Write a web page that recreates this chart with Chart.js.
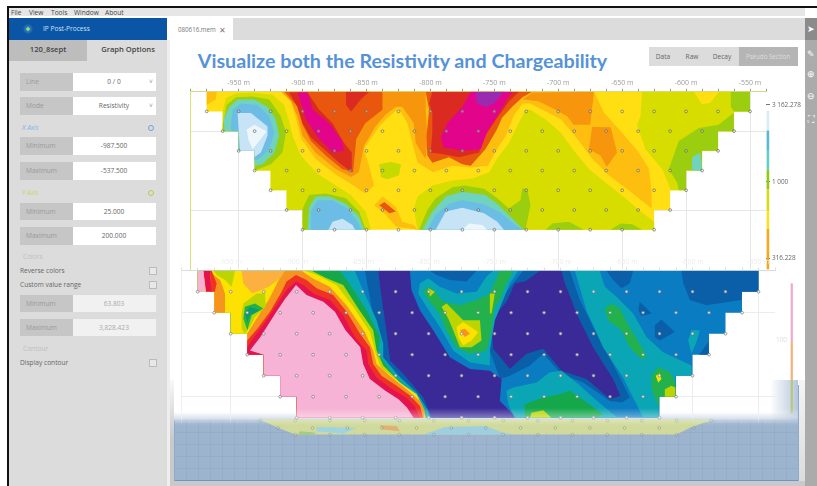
<!DOCTYPE html>
<html><head><meta charset="utf-8">
<script src="https://cdn.jsdelivr.net/npm/chart.js@4/dist/chart.umd.min.js"></script>
<style>
html,body{margin:0;padding:0;background:#fff;overflow:hidden}
#wrap{position:relative;width:817px;height:486px;overflow:hidden;background:#fff;filter:blur(.5px);font-family:"Open Sans",sans-serif;color:#666}
#wrap div,#wrap canvas{position:absolute}
.t{white-space:nowrap;font-size:6.6px;line-height:1;transform:translate(-50%,-50%)}
.l{white-space:nowrap;font-size:6.6px;line-height:1;transform:translateY(-50%)}
.lab{background:#c6c6c6;left:20px;width:53px}
.val{background:#fff;left:73px;width:83px}
.chk{left:149px;width:6px;height:6px;background:#e8e8e8;border:1px solid #bbb}
</style></head><body><div id="wrap">
<div style="left:0;top:0;width:817px;height:6px;background:#fff"></div>
<div style="left:9px;top:7px;width:796px;height:9px;background:#e6e6e6"></div>
<div style="left:7px;top:6px;width:810px;height:1.5px;background:#111"></div>
<div style="left:7px;top:6px;width:2px;height:480px;background:#111"></div>
<div class="l" style="left:11px;top:13px;color:#444">File</div>
<div class="l" style="left:29px;top:13px;color:#444">View</div>
<div class="l" style="left:51px;top:13px;color:#444">Tools</div>
<div class="l" style="left:74px;top:13px;color:#444">Window</div>
<div class="l" style="left:105px;top:13px;color:#444">About</div>
<div style="left:9px;top:18px;width:158px;height:22px;background:#0a55a5"></div>
<div style="left:23px;top:24px;width:10px;height:10px;border-radius:50%;background:radial-gradient(circle,#9fe060 0 18%,#2b7fc4 30%,#0d3f7d 100%)"></div>
<div class="l" style="left:43px;top:29px;color:#cfe0f3">IP Post-Process</div>
<div style="left:9px;top:40px;width:158px;height:446px;background:#dcdcdc"></div>
<div style="left:167px;top:40px;width:3px;height:446px;background:#eeeeee"></div>
<div style="left:9px;top:40px;width:78px;height:21px;background:#bdbdbd"></div>
<div class="t" style="left:48px;top:50px;font-size:7.6px;font-weight:600;color:#444">120_8sept</div>
<div class="t" style="left:128px;top:50px;font-size:7.6px;font-weight:600;color:#444">Graph Options</div>

<div class="lab" style="top:73px;height:18px"></div><div class="val" style="top:73px;height:18px"></div>
<div class="l" style="left:26px;top:82px;color:#999">Line</div><div class="t" style="left:114px;top:82px">0 / 0</div><div class="t" style="left:151px;top:82px;color:#999">˅</div>
<div class="lab" style="top:97px;height:18px"></div><div class="val" style="top:97px;height:18px"></div>
<div class="l" style="left:26px;top:106px;color:#999">Mode</div><div class="t" style="left:114px;top:106px">Resistivity</div><div class="t" style="left:151px;top:106px;color:#999">˅</div>
<div class="l" style="left:22px;top:128px;color:#7fb5e6;font-style:italic">X Axis</div>
<div style="left:148px;top:125px;width:4px;height:4px;border:1px solid #6aa5e0;border-radius:50%"></div>
<div class="lab" style="top:137px;height:18px"></div><div class="val" style="top:137px;height:18px"></div>
<div class="l" style="left:26px;top:146px;color:#999">Minimum</div><div class="t" style="left:114px;top:146px">-987.500</div>
<div class="lab" style="top:162px;height:18px"></div><div class="val" style="top:162px;height:18px"></div>
<div class="l" style="left:26px;top:171px;color:#999">Maximum</div><div class="t" style="left:114px;top:171px">-537.500</div>
<div class="l" style="left:22px;top:193px;color:#c3d96a;font-style:italic">Y Axis</div>
<div style="left:148px;top:190px;width:4px;height:4px;border:1px solid #b5cf4e;border-radius:50%"></div>
<div class="lab" style="top:203px;height:17px"></div><div class="val" style="top:203px;height:17px"></div>
<div class="l" style="left:26px;top:212px;color:#999">Minimum</div><div class="t" style="left:114px;top:212px">25.000</div>
<div class="lab" style="top:227px;height:18px"></div><div class="val" style="top:227px;height:18px"></div>
<div class="l" style="left:26px;top:236px;color:#999">Maximum</div><div class="t" style="left:114px;top:236px">200.000</div>
<div class="l" style="left:23px;top:257px;color:#bcbcbc">Colors</div>
<div class="l" style="left:20px;top:271px;color:#666">Reverse colors</div><div class="chk" style="top:267px"></div>
<div class="l" style="left:20px;top:285px;color:#666">Custom value range</div><div class="chk" style="top:281px"></div>
<div class="lab" style="top:295px;height:17px"></div><div class="val" style="top:295px;height:17px;background:#f1f1f1"></div>
<div class="l" style="left:26px;top:304px;color:#999">Minimum</div><div class="t" style="left:114px;top:304px;color:#aaa">63.803</div>
<div class="lab" style="top:319px;height:17px"></div><div class="val" style="top:319px;height:17px;background:#f1f1f1"></div>
<div class="l" style="left:26px;top:328px;color:#999">Maximum</div><div class="t" style="left:114px;top:328px;color:#aaa">3,828.423</div>
<div class="l" style="left:23px;top:349px;color:#bcbcbc">Contour</div>
<div class="l" style="left:20px;top:363px;color:#666">Display contour</div><div class="chk" style="top:359px"></div>

<div style="left:233px;top:18px;width:572px;height:22px;background:#dcdcdc"></div>
<div class="l" style="left:178px;top:30px;font-size:6.2px;color:#777">080616.mem</div>
<div class="t" style="left:222px;top:30px;font-size:8px;color:#777">✕</div>
<div style="left:649px;top:47px;width:149px;height:19px;background:#dcdcdc"></div>
<div style="left:739px;top:47px;width:59px;height:19px;background:#b5b5b5"></div>
<div class="t" style="left:663px;top:57px">Data</div>
<div class="t" style="left:692px;top:57px">Raw</div>
<div class="t" style="left:722px;top:57px">Decay</div>
<div class="t" style="left:768px;top:57px;font-size:6.2px;color:#dedede">Pseudo Section</div>
<div style="left:805px;top:18px;width:12px;height:468px;background:#ababab"></div>
<div style="left:805px;top:18px;width:12px;height:22px;background:#8b8b8b"></div>
<div class="t" style="left:811px;top:28px;color:#fff;font-size:9px">➤</div>
<div class="t" style="left:811px;top:53px;color:#fff;font-size:9px">✎</div>
<div class="t" style="left:811px;top:73px;color:#fff;font-size:9px">⊕</div>
<div class="t" style="left:811px;top:95px;color:#fff;font-size:9px">⊖</div>
<div class="t" style="left:811px;top:118px;color:#fff;font-size:9px">⛶</div>
<div class="t" style="left:402.5px;top:60.5px;font-family:Lato,sans-serif;font-weight:700;font-size:19.7px;color:#5592d8">Visualize both the Resistivity and Chargeability</div>

<div style="left:174px;top:380px;width:624px;height:101px;background:linear-gradient(to bottom,rgba(157,180,207,0) 0,rgba(157,180,207,0) 32%,rgba(157,180,207,1) 43%,rgba(157,180,207,1) 100%)"></div>
<div style="left:174px;top:420px;width:624px;height:61px;background-image:repeating-linear-gradient(to right,rgba(110,140,180,.16) 0 1px,transparent 1px 12px),repeating-linear-gradient(to bottom,rgba(110,140,180,.16) 0 1px,transparent 1px 12px)"></div>
<div style="left:174px;top:480px;width:624px;height:1px;background:#6f93c9"></div>
<div style="left:174px;top:420px;width:1px;height:61px;background:#8fa9cc"></div>
<div style="left:798px;top:385px;width:1px;height:96px;background:#8fa9cc"></div>
<div style="left:770px;top:380px;width:28px;height:43px;background:linear-gradient(to right,rgba(157,180,207,0),rgba(157,180,207,.75))"></div>
<div style="left:170px;top:380px;width:4px;height:106px;background:linear-gradient(to bottom,#f8f8f8,#c9c9c9 55%)"></div>
<div style="left:170px;top:481px;width:635px;height:5px;background:#c9c9c9"></div>
<div style="left:799px;top:380px;width:6px;height:101px;background:linear-gradient(to bottom,#f4f4f4,#dcdcdc)"></div>

<canvas id="top" width="640" height="215" style="left:170px;top:60px"></canvas>
<canvas id="bot" width="640" height="236" style="left:170px;top:250px"></canvas>
<div style="left:174px;top:408px;width:624px;height:18px;background:linear-gradient(to bottom,rgba(255,255,255,0),rgba(255,255,255,.35) 50%,rgba(255,255,255,0))"></div>
</div>
<script>
// ---- axes ----
const xTickValues=[-987.5,-975,-962.5,-950,-937.5,-925,-912.5,-900,-887.5,-875,-862.5,-850,-837.5,-825,-812.5,-800,-787.5,-775,-762.5,-750,-737.5,-725,-712.5,-700,-687.5,-675,-662.5,-650,-637.5,-625,-612.5,-600,-587.5,-575,-562.5,-550,-537.5];
const xLabelled=[-950,-900,-850,-800,-750,-700,-650,-600,-550];
const depthGrid=[50,150];
const colorTicksTop=[3162.278,1000,316.228];
const colorTickLabelsTop=['3 162.278','1 000','316.228'];
const colorTicksBottom=[100];
const colorTickLabelsBottom=['100'];

// ---- measurement points (x in metres per depth row) ----
const depth25=[-975,-950,-925,-900,-875,-850,-825,-800,-775,-750,-725,-700,-675,-650,-625,-600,-575,-550];
const depth50=[-962.5,-937.5,-912.5,-887.5,-862.5,-837.5,-812.5,-787.5,-762.5,-737.5,-712.5,-687.5,-662.5,-637.5,-612.5,-587.5,-562.5];
const depth75=[-950,-925,-900,-875,-850,-825,-800,-775,-750,-725,-700,-675,-650,-625,-600,-575];
const depth100=[-937.5,-912.5,-887.5,-862.5,-837.5,-812.5,-787.5,-762.5,-737.5,-712.5,-687.5,-662.5,-637.5,-612.5,-587.5];
const depth125=[-925,-900,-875,-850,-825,-800,-775,-750,-725,-700,-675,-650,-625,-600];
const depth150=[-912.5,-887.5,-862.5,-837.5,-812.5,-787.5,-762.5,-737.5,-712.5,-687.5,-662.5,-637.5,-612.5];
const depth175=[-900,-875,-850,-825,-800,-775,-750,-725,-700,-675,-650,-625];
const fadedRow178=[-927.3,-901,-874.7,-848.5,-822.2,-796,-769.7,-743.4,-717.2,-690.9,-664.6,-638.4,-612.1,-585.9];
const fadedRow187=[-914.1,-887.9,-861.6,-835.4,-809.1,-782.8,-756.6,-730.3,-704,-677.8,-651.5,-625.2,-599];
const fadedRow195=[-901,-874.7,-848.5,-822.2,-796,-769.7,-743.4,-717.2,-690.9,-664.6,-638.4,-612.1];

// ---- section outline (x m, depth) ----
const outline=[-975,0,-975,25,-962.5,25,-962.5,50,-950,50,-950,75,-937.5,75,-937.5,100,-925,100,-925,125,-912.5,125,-912.5,150,-900,150,-900,175,-625,175,-625,150,-612.5,150,-612.5,125,-600,125,-600,100,-587.5,100,-587.5,75,-575,75,-575,50,-562.5,50,-562.5,25,-550,25,-550,0];

// ---- resistivity contour bands (x m, depth) ----
const rAmberCorner=[-975,0,-967,0,-968,10,-975,17];
const rAmberMain=[-917,0,-909,12.5,-905,35,-901,60,-890,85,-875,104,-862,117,-851,129,-844,119,-848,94,-852,73,-845,56,-839,42,-832,31,-825,21,-818,40,-815,60,-810,90,-798,102,-783,94,-768,96,-755,94,-748,73,-741,56,-735,31,-728,15,-722,15,-698,35,-685,60,-673.5,85,-660.5,106,-645,125,-627,148,-627,127,-629,98,-637,77,-650,52,-664,27,-672,0];
const rAmberLow=[-844,144,-837.5,133,-827,146,-822,165,-813,169,-810,175,-827,171,-835,156];
const rOrangeMain=[-916,0,-803.7,0,-803.7,23,-802,65,-804,85,-811.5,65,-813,40,-822,19,-827,19,-835,29,-843,44,-852,69,-856,102,-862,108,-874,98,-890,77,-900,56,-904,31,-909,12.5];
const rOrangeRight=[-728,10,-720,1,-672,0,-675,42,-688,42,-693,31,-702,23,-715,12.5,-726,10];
const rOrangeBlob=[-673.5,44.6,-659,45,-654,77,-662,95,-667,81,-676,73];
const rOrangeSpot=[-840,144,-836,140,-827,152,-832,154];
const rRedOrangeLeft=[-914,0,-837.5,0,-837.5,23,-851,40,-858,60,-860.5,102,-869,98,-882,81,-893.5,62.5,-900,42,-904,19];
const rRedOrangeRight=[-803.7,0,-720.4,0,-728,7,-736,19,-744,33,-748,48,-757,73,-768.5,94,-775,92,-785.5,83,-798.5,90,-802.4,81,-803,56,-801,23];
const rRedRight=[-798.5,0,-730.8,0,-738.6,12.5,-747.7,33,-757,56,-762,77,-777.7,83,-790.7,79,-799.8,77,-798.5,52,-798.5,27,-801,15];
const rRedLeft=[-910.5,1,-896,1,-887,23,-876.6,40,-867.5,65,-861.5,77,-861.5,102,-871.4,90,-881.8,75,-893.5,58,-900,40,-904,19];
const rRedTop=[-866,0,-848,0,-854.5,10,-862,25,-866,17];
const rMagentaRight=[-768.5,0,-736,0,-740,10,-747.7,31,-755.5,50,-760.7,73,-773.7,75,-789.4,71,-792,58,-786.8,40,-775,19];
const rMagentaLeft=[-904,1,-896,1,-892,23,-879,40,-869,62.5,-867.5,75,-876.6,77,-888,58,-897.4,35];
const rPurple=[-764.6,0,-742.5,0,-750.3,15,-756.8,19,-763.3,15];
const rLimeLeft=[-962.5,25,-960,8,-952,2,-939,1,-923.5,4,-914.4,17,-911,35,-907.3,58,-901.3,81,-888.3,104,-874,119,-862.3,131,-850.6,152,-846.4,175,-900,175,-900,150,-912.5,150,-912.5,125,-925,125,-925,100,-937.5,100,-937.5,75,-950,75,-950,50,-962.5,50];
const rLimeCentre=[-840,92,-831,89,-823,92,-824.5,106,-833.6,111,-838.8,108];
const rLimeRight=[-810,175,-813,148,-810,133,-798.5,119,-783,112.5,-767,110,-754,102,-748,85,-738.6,65,-731,40,-725.6,23,-721.7,23,-710,35,-698,52,-686.5,77,-676,98,-663,115,-647.4,135,-637,150,-625,165,-625,175];
const rLimeEdge=[-634.4,0,-635.7,31,-638.4,42,-631.8,73,-618.8,98,-612.3,123,-612.5,125,-600,125,-600,100,-587.5,100,-587.5,75,-575,75,-575,50,-562.5,50,-562.5,25,-550,25,-550,0];
const rYellowBump=[-594,0,-574.5,0,-581,14,-587.6,16];
const rGreenCorner=[-565,0,-550,0,-550,25,-562.5,25,-565,19];
const rGreenEdge=[-562.8,27,-574.5,42,-590,46,-605.8,62.5,-609.7,81,-613.6,98,-607,115,-605.8,125,-600,125,-600,100,-587.5,100,-587.5,75,-575,75,-575,50,-562.5,50];
const rTealEdge=[-595.4,83,-588.9,77,-587.5,100,-595.4,100];
const rBlobGreen=[-962.5,42,-959.4,17,-952,7,-939,6,-926,10,-917,31,-913,52,-915.7,77,-924.8,92,-937.5,100,-937.5,75,-950,75,-950,50,-962.5,50];
const rBlobTeal=[-961.8,35,-957.3,19,-950.8,10,-937.8,10,-927.4,19,-920.9,35,-918.3,56,-922,77,-931.3,92,-937.5,94,-937.5,75,-950,75,-950,50,-961,50];
const rBlobBlue=[-956,42,-954.7,23,-948,15,-935,17,-926,31,-922,52,-926,73,-933.9,85,-937.5,87.5,-937.5,75,-950,75,-950,50,-956,50];
const rBlobLight=[-950.8,27,-940.4,27,-927.4,44,-927.4,56,-932.6,77,-937.8,83,-937.5,75,-949,75,-950,48];
const rBlobWhite=[-943.8,48,-937.8,42,-928,50,-933.9,62.5,-939,73,-942,62.5];
const rLowGreen=[-900,175,-900,148,-894.8,131,-881.8,129,-866.2,135,-855.8,152,-850.6,175];
const rLowTeal=[-896,175,-894.8,146,-889.6,133,-879,133,-866.2,142,-855.8,158,-851.9,175];
const rLowBlue=[-893.5,175,-893.5,152,-888.3,137.5,-876.6,137.5,-864.9,148,-857,165,-853.7,175];
const rLowLight=[-879.7,175,-876.6,165,-868.8,161,-861,169,-858.9,175];
const rDomeGreen=[-808.9,175,-802.4,150,-795.9,135,-782.9,121,-773.7,119,-758,123,-747.7,135,-738.6,148,-729.5,137.5,-728.2,123,-724.3,123,-721.7,144,-725.6,175];
const rDomeTeal=[-806.3,175,-798.5,152,-788,133,-775,127,-756.8,131,-746.4,144,-733.4,165,-726.9,175];
const rDomeBlue=[-802.4,175,-795.9,156,-785.5,142,-775,137.5,-759.4,142,-746.4,152,-733.4,169,-728.2,175];
const rDomeLight=[-795.9,175,-788,152,-775,147,-758,154,-747.7,165,-742.5,175];
const rDomeWhite=[-775,175,-769.8,167,-759.4,169,-755.5,175];
const rFootGreenA=[-710,175,-704.7,167,-691.7,165,-680,175];
const rFootGreenB=[-659.2,175,-651.4,167,-642.2,168,-634.4,175];

// ---- chargeability contour bands (x m, depth) ----
const cBlueHalo=[-814.2,0,-715.7,0,-728.3,17,-736,37,-743.5,51,-749.8,71,-752.3,95,-753.6,119,-768.7,117,-783.9,103,-796.5,71,-806.6,47,-813,23];
const cDarkTopRight=[-608.4,0,-550,0,-550,25,-562.5,25,-563,35,-589.5,41,-602,35,-607,15];
const cDarkTopMid=[-665.2,0,-645,0,-647.5,15,-653.8,21,-660.2,11];
const cDarkTopLeft=[-799,0,-763.7,0,-771.2,13,-783.9,11,-794,5];
const cDarkSpotA=[-640,37,-631,51,-638.7,54,-641,47];
const cDarkSpotB=[-628.6,65,-623.6,58,-613.5,73,-624.8,83,-628.6,79];
const cDarkSpotC=[-588,85,-587.5,100,-595,100];
const cDarkStrip=[-848.3,0,-838.2,0,-836.9,19,-831.8,75,-829.3,107,-819.2,123,-804.1,151,-797.8,175,-803,175,-810,150,-825,120,-837,100,-840,70,-846,20];
const cDarkBand=[-728.3,0,-693,0,-685.4,35,-675.3,67,-656.4,123,-647.5,151,-653.8,157,-662.7,155,-682.9,133,-699.3,123,-713.2,99,-723.3,113,-738.4,125,-746,129,-753.6,95,-753.6,71,-746,35];
const cIndigoLeft=[-838.2,0,-814.2,0,-813,23,-806.6,47,-796.5,71,-783.9,103,-768.7,117,-753.6,119,-744.7,129,-746,155,-733.4,175,-797.8,175,-804.1,151,-819.2,123,-829.3,107,-831.8,75,-836.9,19];
const cIndigoMid=[-752.3,71,-748.5,51,-741,37,-734.6,15,-727,13,-715.7,0,-699.3,0,-696.8,15,-686.7,55,-675.3,91,-660.2,129,-654.6,149,-662.7,153,-680.3,129,-699.3,119,-713.2,93,-725.8,99,-738.4,117,-751,93];
const cTealRight=[-689.2,0,-670.3,0,-666.5,19,-657.6,31,-645,51,-634.9,79,-622.3,97,-600.8,113,-600.5,125,-613,125,-613,150,-625.6,150,-625.6,175,-637.4,175,-642.5,159,-652.6,127,-667.8,91,-680.4,47];
const cTealSmall=[-603.3,83,-600.8,71,-594.5,71,-597,85,-600.8,99];
const cGreenDiag=[-666.5,45,-661.4,39,-655,45,-648.8,65,-640,87,-634.9,103,-638.7,105,-647.5,91,-653.9,71,-664,59];
const cGreenLow=[-631.1,125,-626,115,-617.2,121,-613,133,-613,150,-625.6,150,-625.6,163,-628.6,151,-631.1,139];
const cLimeLow=[-621,141,-616,137,-613,139,-613,150,-621,150];
const cYellowLow=[-627.9,125,-624.8,122,-623.6,129,-626,133];
const cTealHump=[-741,143,-736,139,-718.2,133,-708.1,121,-699.3,119,-686.7,135,-675.3,151,-660.2,171,-656.4,175,-734.7,175,-739.7,159];
const cGreenHump=[-727.1,159,-713.2,151,-700.6,147,-693,143,-685.4,151,-667.8,171,-672.8,175,-727.1,175];
const cLimeHump=[-723.3,175,-722,169,-713.2,166,-706.9,175];
const cTealBlob=[-807.9,27,-806.6,15,-800.3,9,-791.5,19,-778.8,27,-763.7,25,-756.1,7,-751.1,0,-732.1,0,-738.4,15,-743.5,35,-749.8,59,-753.6,95,-753.6,113,-768.8,109,-781.4,95,-791.5,67,-801.6,43];
const cGreenBlob=[-804.1,25,-799.6,19,-794,27,-788.9,37,-776.3,41,-763.7,35,-753.6,27,-746,0,-736,0,-742.2,19,-746,35,-749.8,43,-752.3,71,-756.1,95,-768.8,99,-778.8,91,-786.5,71,-791.5,51,-799,37];
const cLimeBlob=[-790.2,43,-786.4,39,-778.8,51,-773.8,59,-761.1,59,-759.9,83,-767.4,91,-776.3,91,-781.4,71,-785.1,57];
const cYellowBlob=[-778.8,67,-773.8,61,-762.4,73,-767.4,83,-773.8,89,-777.6,79];
const cOrangeBlob=[-776.3,71,-772.5,69,-768.7,75,-772.5,79];
const cLimeDotA=[-800.3,21,-795.2,25,-799,31];
const cLimeDotB=[-753.6,27,-749.8,27,-752.3,51,-753.6,51];
const stairsLeft=[-900,175,-900,150,-912.5,150,-912.5,125,-925,125,-925,100,-937.5,100,-937.5,75,-950,75,-950,50,-962.5,50,-962.5,25,-975,25,-975,0];
const cTealWest=[-855.9,0,-850.8,19,-839.4,59,-834.4,87,-834.4,103,-824.3,123,-809.1,145,-800.3,167,-799,175];
const cGreenWest=[-867.2,0,-858.4,19,-847,47,-836.9,79,-838.2,99,-828.1,121,-815.6,143,-805,163,-801.6,175];
const cLimeWest=[-888.7,0,-877.3,9,-864.7,17,-853.3,45,-842,71,-839.4,95,-834.4,113,-819.2,137,-807.8,151,-803.6,167,-802,175];
const cYellowWest=[-893.7,0,-884.9,5,-869.7,17,-857.1,43,-844.5,73,-840,99,-836.4,115,-821.8,133,-809.1,147,-804.1,163,-802.8,175];
const cOrangeWest=[-909,0,-896.3,0,-888,9,-875,19,-862.2,41,-848.3,73,-842,95,-839.5,111,-829.4,125,-816.7,141,-806.6,155,-802.8,167,-803.6,175,-900,175,-900,150,-912.5,150,-912.5,125,-925,125,-925,100,-937.5,100,-937.5,75,-928.8,53,-921.2,35,-913.6,11];
const cRedWest=[-937.5,83,-929.8,69,-920.2,49,-911.4,25,-907.6,13,-900.5,5,-892.5,11,-884.9,21,-872.3,29,-862.1,49,-852,75,-844.5,91,-842,111,-835.7,125,-824.3,137,-813.9,149,-806.6,161,-804.1,175,-900,175,-900,150,-912.5,150,-912.5,125,-925,125,-925,100,-937.5,100];
const cCrimsonWest=[-937.5,91,-934.1,83,-922.8,59,-912.8,35,-906.4,21,-900.5,13,-895,17,-887.4,27,-874.8,35,-864.7,53,-855.9,79,-847,95,-845.8,111,-839.5,127,-829.4,139,-817,151,-810.7,161,-806.6,175,-900,175,-900,150,-912.5,150,-912.5,125,-925,125,-925,100,-937.5,100];
const cPink=[-900.5,17,-892.5,29,-879.8,37,-871,49,-863,71,-851.8,91,-849.6,111,-844.5,129,-832.8,143,-822.8,153,-816.4,163,-811.4,175,-900,175,-900,150,-912.5,150,-912.5,125,-925,125,-925,100,-935.4,95,-927.5,79,-916.2,51,-908.6,33];
const cAmberTop=[-941.7,0,-909,0,-912.6,9,-921,19,-933.7,27,-940.5,15];
const cLimeTop=[-963,0,-946.7,0,-949.3,19,-954.3,11,-960.7,5];
const cOrangeEdge=[-964.4,3,-958,11,-954.3,27,-954.3,50,-962.5,50,-962.5,25];
const cCrimsonEdge=[-970.7,0,-965.7,0,-964.4,25,-968.7,25];
const cPinkEdge=[-975,0,-970.7,0,-969,25,-975,25];
const cRedEdge=[-965.7,0,-964.4,0,-960.7,15,-962,25,-965,25];
const cLimePatch=[-941.7,51,-940.4,39,-930.4,27,-924,27,-923.3,43,-931.6,55,-935.4,67,-939.2,75,-941.7,69];
const cGreenPatch=[-940.4,57,-939.2,43,-931.6,39,-925.3,45,-934.1,53,-937.4,71];
const cDeepPatch=[-939.2,51,-935.4,43,-927.8,47,-935.4,53,-937.4,61];

// ---- faded third section under the overlay (x m, depth) ----
const fBase=[-927.8,177,-584.4,177,-602,187,-612.2,195,-901,195,-914.2,187];
const fLight=[-884.9,186,-854.6,187,-864.7,194,-884.9,191];
const fGreen=[-897.5,191,-884.9,193,-887.4,195,-898.8,195];
const fOrange=[-837,184,-824.3,185,-821.8,191,-834.4,189];
const fBlue=[-804.1,195,-787.4,186,-757.1,185,-743.5,193,-733.4,195];

// ---- colour scale strips ----
const topScaleStops=[2894,2154,1604,1194,889,642,492,270];
const topScaleColours=['#d8ecf7','#5cb6d8','#63cfc0','#8fcb12','#d6dc10','#ffdf20','#f5a81c'];
const bottomScaleStops=[15,85,130,170];
const bottomScaleColours=['#f3a9cf','#f2b27a','#b9c77a'];

const P={yellow:'#ffdf12',amber:'#fdbe0f',orange:'#f7950d',redOrange:'#e9560d',red:'#db2b20',magenta:'#e2058c',purple:'#9a2bb0',lime:'#d8dd00',green:'#9bce0e',teal:'#6fd3bd',blue:'#6cbde6',light:'#c6e4f5',white:'#ecf6fb'};
const Q={pink:'#f6b3d5',crimson:'#e4134f',red:'#ee3224',orange:'#f7941d',amber:'#fbb040',yellow:'#fde100',lime:'#bcd500',green:'#15a84b',bgreen:'#22b14c',deep:'#0f9a70',teal:'#0ba6b5',blue:'#0a7cc2',dark:'#0b5fa9',indigo:'#3a2a98'};

function pts(f){const o=[];for(let i=0;i<f.length;i+=2)o.push({x:f[i],y:f[i+1]});return o;}
function poly(f,c){return {data:pts(f),showLine:true,fill:'shape',backgroundColor:c,borderWidth:0,borderColor:'transparent',pointRadius:0,tension:0};}
function dots(rows,stroke,fillc){const d=[];rows.forEach(([y,xs])=>xs.forEach(x=>d.push({x,y})));
  return {data:d,showLine:false,pointRadius:1.4,borderWidth:.7,pointBorderColor:stroke,pointBackgroundColor:fillc,clip:false};}
function strip(x,stops,cols,axis,w){return cols.map((c,i)=>({data:[{x,y:stops[i]},{x,y:stops[i+1]}],showLine:true,fill:false,borderColor:c,borderWidth:w,pointRadius:0,clip:false,yAxisID:axis}));}

const mainRows=[[25,depth25],[50,depth50],[75,depth75],[100,depth100],[125,depth125],[150,depth150],[175,depth175]];

const topLayers=[
 [outline,P.yellow],[rAmberCorner,P.amber],[rAmberMain,P.amber],[rAmberLow,P.amber],[rOrangeMain,P.orange],[rOrangeRight,P.orange],[rOrangeBlob,P.orange],[rOrangeSpot,P.redOrange],
 [rRedOrangeLeft,P.redOrange],[rRedOrangeRight,P.redOrange],[rRedRight,P.red],[rRedLeft,P.red],[rRedTop,P.red],[rMagentaRight,P.magenta],[rMagentaLeft,P.magenta],[rPurple,P.purple],
 [rLimeLeft,P.lime],[rLimeCentre,'#c6d900'],[rLimeRight,P.lime],[rLimeEdge,P.lime],[rYellowBump,P.yellow],[rGreenCorner,P.green],[rGreenEdge,P.green],[rTealEdge,P.teal],
 [rBlobGreen,P.green],[rBlobTeal,P.teal],[rBlobBlue,P.blue],[rBlobLight,P.light],[rBlobWhite,P.white],
 [rLowGreen,P.green],[rLowTeal,P.teal],[rLowBlue,P.blue],[rLowLight,P.light],
 [rDomeGreen,P.green],[rDomeTeal,P.teal],[rDomeBlue,P.blue],[rDomeLight,P.light],[rDomeWhite,P.white],[rFootGreenA,P.green],[rFootGreenB,P.green]
];
const botLayers=[
 [fBase,'rgba(214,222,150,.9)'],[fLight,'rgba(150,210,235,.85)'],[fGreen,'rgba(150,205,120,.85)'],[fOrange,'rgba(226,170,110,.85)'],[fBlue,'rgba(150,205,235,.85)'],
 [outline,Q.blue],[cBlueHalo,Q.blue],[cDarkTopRight,Q.dark],[cDarkTopMid,Q.dark],[cDarkTopLeft,Q.dark],[cDarkSpotA,Q.dark],[cDarkSpotB,Q.dark],[cDarkSpotC,Q.dark],
 [cDarkStrip,Q.dark],[cDarkBand,Q.dark],[cIndigoLeft,Q.indigo],[cIndigoMid,Q.indigo],
 [cTealRight,Q.teal],[cTealSmall,Q.teal],[cGreenDiag,Q.bgreen],[cGreenLow,Q.bgreen],[cLimeLow,Q.lime],[cYellowLow,Q.yellow],
 [cTealHump,Q.teal],[cGreenHump,Q.green],[cLimeHump,Q.lime],
 [cTealBlob,Q.teal],[cGreenBlob,Q.bgreen],[cLimeBlob,Q.lime],[cYellowBlob,Q.yellow],[cOrangeBlob,Q.orange],[cLimeDotA,Q.lime],[cLimeDotB,Q.lime],
 [cTealWest.concat(stairsLeft),Q.teal],[cGreenWest.concat(stairsLeft),Q.green],[cLimeWest.concat(stairsLeft),Q.lime],[cYellowWest.concat(stairsLeft),Q.yellow],
 [cOrangeWest,Q.orange],[cAmberTop,Q.amber],[cLimeTop,Q.lime],[cOrangeEdge,Q.orange],[cRedWest,Q.red],[cCrimsonWest,Q.crimson],[cPink,Q.pink],
 [cCrimsonEdge,Q.crimson],[cPinkEdge,Q.pink],[cRedEdge,Q.red],[cLimePatch,Q.lime],[cGreenPatch,Q.bgreen],[cDeepPatch,Q.deep]
];

function fade(id,colour,clear,frac){
 const g=document.getElementById(id).getContext('2d').createLinearGradient(0,0,0,document.getElementById(id).height);
 g.addColorStop(0,colour);g.addColorStop(frac,colour);g.addColorStop(Math.min(1,frac+.05),clear);g.addColorStop(1,clear);return g;
}
function make(id,cfg){
 const ds=cfg.layers.map(([f,c])=>poly(f,c)).concat(cfg.extra);
 ds.reverse();
 new Chart(document.getElementById(id),{type:'scatter',data:{datasets:ds},options:{
  responsive:false,animation:false,devicePixelRatio:1,
  layout:{padding:{bottom:cfg.padBottom}},
  plugins:{legend:{display:false},tooltip:{enabled:false},title:{display:false}},
  events:[],
  scales:{
   x:{type:'linear',position:'top',min:-987.5,max:-537.5,
     afterBuildTicks(s){s.ticks=xTickValues.map(value=>({value}));},
     afterFit(s){s.height=cfg.axisH;},
     border:{color:cfg.axisLine,width:1},
     grid:{color:c=>xLabelled.includes(c.tick&&c.tick.value)?cfg.grid:'transparent',tickColor:cfg.tick,tickLength:3,lineWidth:1},
     ticks:{autoSkip:false,maxRotation:0,minRotation:0,padding:2,color:cfg.label,font:{family:'"Open Sans"',size:7},
       callback:v=>xLabelled.includes(v)?v+' m':''}},
   y:{type:'linear',position:'left',reverse:true,min:0,max:225,
     afterBuildTicks(s){s.ticks=depthGrid.map(value=>({value}));},
     afterFit(s){s.width=cfg.leftW;},
     border:{color:cfg.yLine,width:1},
     grid:{color:cfg.hGrid,drawTicks:false,lineWidth:1},
     ticks:{display:false}},
   y2:{type:'logarithmic',position:'right',min:cfg.cMin,max:cfg.cMax,
     afterBuildTicks(s){s.ticks=cfg.cTicks.map(value=>({value}));},
     afterFit(s){s.width=cfg.rightW;},
     border:{display:false},
     grid:{drawOnChartArea:false,tickColor:cfg.cTickColor,tickLength:cfg.cTickLen},
     ticks:{autoSkip:false,padding:cfg.cPad,color:cfg.cLabel,font:{family:'"Open Sans"',size:6.4},
       callback:v=>{const i=cfg.cTicks.indexOf(v);return i<0?'':cfg.cLabels[i];}}}
  }}});
}

make('top',{layers:topLayers,
 extra:[dots(mainRows,'#666','rgba(255,255,255,.35)')].concat(strip(-536,topScaleStops,topScaleColours,'y2',2.6)),
 padBottom:3.3,axisH:31.7,leftW:20.7,rightW:44,grid:'#e6e6e6',hGrid:'#e6e6e6',tick:'#9a9a9a',label:'#9b9b9b',axisLine:'#d4d98a',yLine:'#d4e27a',
 cMin:270,cMax:3846,cTicks:colorTicksTop,cLabels:colorTickLabelsTop,cTickColor:'#777',cTickLen:4,cPad:2,cLabel:'#666'});

make('bot',{layers:botLayers,
 extra:[dots([[178.4,fadedRow178],[187.2,fadedRow187],[195.2,fadedRow195]],'rgba(110,125,110,.55)','rgba(255,255,255,.2)'),
        dots(mainRows,'#777','rgba(255,255,255,.8)')].concat(strip(-524.8,bottomScaleStops,bottomScaleColours,'y',2.2)),
 padBottom:26.3,axisH:20.7,leftW:11.2,rightW:35,
 grid:fade('bot','#ececec','rgba(236,236,236,0)',.69),hGrid:'#ececec',tick:'#dcdcdc',label:'#ececec',axisLine:'#d5dbdf',yLine:fade('bot','#efefef','rgba(239,239,239,0)',.69),
 cMin:20.4,cMax:251,cTicks:colorTicksBottom,cLabels:colorTickLabelsBottom,cTickColor:'rgba(0,0,0,0)',cTickLen:1,cPad:0,cLabel:'#dddddd'});
</script>
</body></html>
